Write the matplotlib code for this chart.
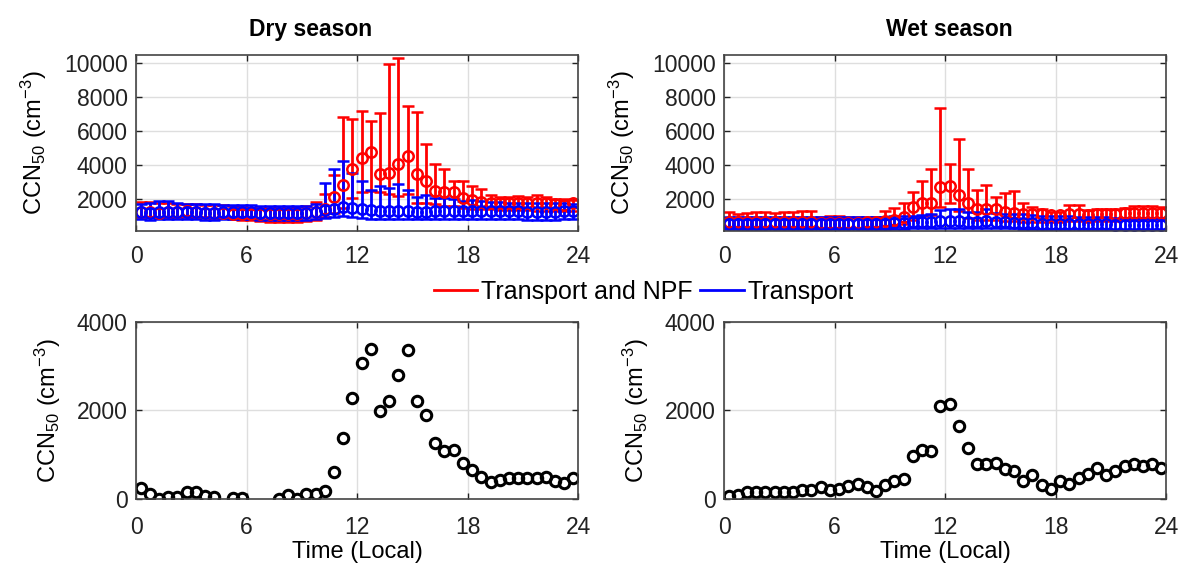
import numpy as np
import matplotlib
matplotlib.use("Agg")
import matplotlib.pyplot as plt
from matplotlib.lines import Line2D

plt.rcParams['font.family'] = ['Liberation Sans', 'DejaVu Sans']
plt.rcParams['mathtext.default'] = 'regular'

# ---------------- data ----------------
hours = np.arange(0.25, 24.0, 0.5)   # half-hour bin centres (local time)
xticks = [0, 6, 12, 18, 24]

# Dry season, "Transport and NPF" (red): mean, lower end, upper end of bars
dry_npf_mean = [1250, 1250, 1200, 1250, 1250, 1300, 1250, 1200, 1200, 1200,
                1150, 1150, 1100, 1100, 1100, 1100, 1100, 1100, 1200, 1250,
                1400, 2150, 2850, 3800, 4450, 4750, 3500, 3550, 4100, 4550,
                3500, 3050, 2500, 2400, 2400, 2100, 1950, 1850, 1800, 1750,
                1750, 1750, 1750, 1750, 1750, 1700, 1650, 1750]
dry_npf_low = [950, 950, 950, 950, 950, 950, 950, 950, 900, 900,
               850, 800, 750, 700, 650, 650, 650, 650, 700, 800,
               950, 1200, 1500, 2100, 2400, 2500, 2450, 2300, 2200, 2300,
               1800, 1800, 1700, 1600, 1600, 1500, 1450, 1400, 1400, 1350,
               1350, 1350, 1350, 1300, 1300, 1300, 1300, 1300]
dry_npf_high = [1850, 1850, 1800, 1750, 1700, 1700, 1700, 1650, 1650, 1650,
                1600, 1550, 1500, 1500, 1500, 1500, 1500, 1550, 1600, 1850,
                2300, 3450, 6850, 6700, 7200, 6600, 7050, 9950, 10300, 7500,
                7150, 5250, 4050, 3750, 3100, 3050, 2750, 2600, 2250, 2150,
                2150, 2200, 2150, 2250, 2150, 2000, 2000, 1950]

# Dry season, "Transport" (blue)
dry_tr_mean = [1250, 1200, 1250, 1250, 1250, 1250, 1250, 1200, 1200, 1250,
               1250, 1250, 1250, 1200, 1200, 1200, 1200, 1200, 1200, 1250,
               1350, 1450, 1550, 1500, 1450, 1350, 1300, 1300, 1300, 1300,
               1250, 1250, 1300, 1300, 1300, 1300, 1300, 1300, 1300, 1300,
               1300, 1300, 1250, 1250, 1250, 1250, 1300, 1300]
dry_tr_low = [850, 800, 850, 850, 850, 850, 850, 800, 800, 850,
              850, 850, 850, 800, 800, 800, 800, 800, 800, 850,
              900, 950, 1000, 950, 900, 850, 850, 850, 850, 850,
              850, 850, 850, 850, 850, 850, 850, 850, 850, 850,
              850, 850, 800, 800, 800, 800, 850, 850]
dry_tr_high = [1700, 1750, 1900, 1900, 1800, 1700, 1700, 1700, 1700, 1650,
               1650, 1650, 1650, 1600, 1600, 1600, 1600, 1600, 1600, 1700,
               2950, 3800, 4250, 3550, 3100, 2550, 2750, 2650, 2900, 2550,
               2150, 2250, 2100, 2050, 2000, 1900, 1950, 1900, 1850, 1850,
               1800, 1800, 1800, 1750, 1750, 1750, 1800, 1700]

# Wet season, "Transport and NPF" (red)
wet_npf_mean = [650, 650, 650, 650, 650, 650, 650, 650, 650, 650,
                600, 600, 600, 600, 600, 650, 650, 700, 800, 950,
                1550, 1750, 1750, 2700, 2750, 2250, 1750, 1450, 1400, 1450,
                1250, 1200, 1150, 1100, 1100, 1050, 1050, 1100, 1100, 1050,
                1150, 1100, 1150, 1200, 1200, 1200, 1200, 1200]
wet_npf_low = [300, 300, 300, 300, 300, 300, 300, 300, 300, 300,
               300, 300, 300, 300, 300, 300, 350, 400, 450, 550,
               800, 1000, 1050, 1550, 1800, 1300, 900, 800, 800, 800,
               700, 700, 650, 650, 650, 650, 650, 700, 700, 650,
               700, 700, 700, 750, 750, 750, 750, 750]
wet_npf_high = [1250, 1150, 1200, 1250, 1250, 1200, 1250, 1250, 1300, 1300,
                950, 1000, 1000, 950, 950, 900, 950, 1300, 1500, 1800,
                2450, 3100, 3800, 7350, 4100, 5550, 3750, 2550, 2850, 2150,
                2350, 2500, 1750, 1550, 1450, 1250, 1250, 1650, 1650, 1350,
                1450, 1450, 1450, 1500, 1600, 1600, 1600, 1550]

# Wet season, "Transport" (blue)
wet_tr_mean = [550, 550, 550, 550, 550, 550, 550, 550, 550, 550,
               550, 550, 550, 550, 550, 550, 550, 550, 600, 600,
               650, 650, 650, 700, 700, 700, 650, 650, 700, 650,
               650, 600, 600, 600, 550, 550, 550, 550, 550, 550,
               550, 550, 500, 500, 500, 500, 500, 500]
wet_tr_low = [250, 250, 250, 250, 250, 250, 250, 250, 250, 250,
              250, 250, 250, 250, 250, 250, 250, 250, 250, 250,
              300, 300, 300, 300, 300, 300, 300, 300, 300, 300,
              300, 300, 250, 250, 250, 250, 250, 250, 250, 250,
              250, 250, 250, 250, 250, 250, 250, 250]
wet_tr_high = [950, 950, 950, 950, 950, 950, 950, 950, 950, 950,
               950, 950, 950, 950, 950, 950, 950, 950, 1000, 1000,
               1000, 1050, 1100, 1350, 1400, 1450, 1250, 1250, 1400, 1200,
               1150, 1100, 1100, 1050, 1000, 1000, 1000, 1000, 950, 950,
               950, 950, 900, 900, 900, 900, 900, 900]

# Difference (NPF contribution), bottom row; NaN = not shown
dry_diff = [248, 113, 10, 53, 53, 150, 150, 75, 53, np.nan,
            20, 15, np.nan, np.nan, np.nan, 10, 90, 10, 105, 120,
            173, 617, 1378, 2274, 3072, 3381, 1988, 2214, 2794, 3366,
            2206, 1890, 1258, 1092, 1114, 806, 663, 497, 377, 429,
            482, 482, 482, 482, 505, 399, 354, 482]
wet_diff = [60, 90, 150, 150, 150, 150, 150, 150, 196, 211,
            271, 211, 233, 286, 346, 271, 188, 324, 407, 452,
            979, 1114, 1092, 2101, 2154, 1657, 1145, 783, 783, 806,
            685, 640, 407, 535, 316, 233, 399, 339, 474, 572,
            693, 542, 640, 738, 783, 753, 783, 708]

# ---------------- figure ----------------
fig = plt.figure(figsize=(11.92, 5.74), dpi=100)

W = 0.3708
ax_tl = fig.add_axes([0.1141, 0.5976, W, 0.3066])
ax_tr = fig.add_axes([0.6074, 0.5976, W, 0.3066])
ax_bl = fig.add_axes([0.1141, 0.1307, W, 0.3084])
ax_br = fig.add_axes([0.6074, 0.1307, W, 0.3084])

FS = 17
TS = 16.5
edge = '#444444'
RED = '#ff0000'
BLUE = '#0000ff'
YLABEL = 'CCN$_{50}$ (cm$^{-3}$)'


def style(ax, xpad):
    ax.set_xlim(0, 24)
    ax.set_xticks(xticks)
    ax.grid(True, color='#dedede', lw=1.0)
    ax.set_axisbelow(True)
    ax.tick_params(direction='in', length=4, width=1, top=True, right=True,
                   labelsize=TS, colors='#222222', pad=6)
    ax.tick_params(axis='x', pad=xpad)
    for s in ax.spines.values():
        s.set_color(edge)
        s.set_linewidth(1.2)


def errplot(ax, mean, low, high, color):
    m = np.array(mean, float)
    lo = m - np.array(low, float)
    hi = np.array(high, float) - m
    ax.errorbar(hours, m, yerr=[lo, hi], fmt='o', color=color, mfc='none',
                mec=color, ms=7.5, mew=1.8, elinewidth=2.0, capsize=4.5,
                capthick=2.0)


for ax, (nm, nl, nh, tm, tl, th), title, tx in [
        (ax_tl, (dry_npf_mean, dry_npf_low, dry_npf_high,
                 dry_tr_mean, dry_tr_low, dry_tr_high), 'Dry season', 0.394),
        (ax_tr, (wet_npf_mean, wet_npf_low, wet_npf_high,
                 wet_tr_mean, wet_tr_low, wet_tr_high), 'Wet season', 0.51)]:
    style(ax, 10)
    errplot(ax, nm, nl, nh, RED)
    errplot(ax, tm, tl, th, BLUE)
    ax.set_ylim(130, 10490)
    ax.set_yticks([2000, 4000, 6000, 8000, 10000])
    ax.set_ylabel(YLABEL, fontsize=FS, labelpad=11)
    ax.set_title(title, fontsize=16.5, fontweight='bold', pad=14, x=tx)

for ax, d in [(ax_bl, dry_diff), (ax_br, wet_diff)]:
    style(ax, 12)
    ax.plot(hours, d, 'o', mfc='none', mec='black', ms=7.5, mew=2.2)
    ax.set_ylim(0, 4000)
    ax.set_yticks([0, 2000, 4000])
    ax.set_ylabel(YLABEL, fontsize=FS, labelpad=10)
    ax.set_xlabel('Time (Local)', fontsize=FS, labelpad=2)

handles = [Line2D([], [], color=RED, lw=2.0), Line2D([], [], color=BLUE, lw=2.0)]
fig.legend(handles, ['Transport and NPF', 'Transport'], loc='center',
           bbox_to_anchor=(0.540, 0.491), ncol=2, frameon=False, fontsize=18,
           handlelength=1.75, handletextpad=0.15, columnspacing=0.3)

fig.savefig('out.png', dpi=100)
